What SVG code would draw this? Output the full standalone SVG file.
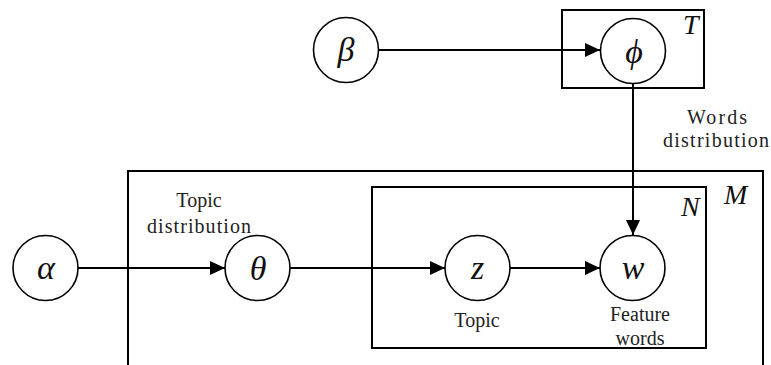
<svg xmlns="http://www.w3.org/2000/svg" width="771" height="365" viewBox="0 0 771 365">
  <style>
    .plate { fill: none; stroke: #000; stroke-width: 2; }
    .node { fill: #fff; stroke: #000; stroke-width: 1.6; }
    .edge { fill: none; stroke: #000; stroke-width: 2; marker-end: url(#arrow); }
    .sym { font-family: "Liberation Serif", "Times New Roman", serif; font-style: italic; font-size: 34px; fill: #111; text-anchor: middle; }
    .idx { font-family: "Liberation Serif", "Times New Roman", serif; font-style: italic; font-size: 28px; fill: #111; }
    .lbl { font-family: "Liberation Serif", "Times New Roman", serif; font-size: 20px; fill: #222; text-anchor: middle; }
  </style>
  <defs>
    <marker id="arrow" markerUnits="userSpaceOnUse" markerWidth="16" markerHeight="14" refX="15" refY="7" orient="auto">
      <path d="M0,0 L15,7 L0,14 Z" fill="#000"/>
    </marker>
  </defs>
  <rect width="771" height="365" fill="#fff"/>

  <!-- plates -->
  <g id="plate-T">
    <rect class="plate" x="562" y="10" width="142" height="78"/>
    <text class="idx" x="683" y="34">T</text>
  </g>
  <g id="plate-M">
    <rect class="plate" x="128" y="171" width="635" height="210"/>
    <text class="idx" x="724" y="204">M</text>
  </g>
  <g id="plate-N">
    <rect class="plate" x="372" y="187" width="334" height="161"/>
    <text class="idx" x="681" y="216">N</text>
  </g>

  <!-- connectors -->
  <g id="edges">
    <line class="edge" x1="379" y1="50" x2="600" y2="50"/>
    <line class="edge" x1="633" y1="83" x2="633" y2="235"/>
    <line class="edge" x1="78" y1="268" x2="225" y2="268"/>
    <line class="edge" x1="290" y1="268" x2="445" y2="268"/>
    <line class="edge" x1="510" y1="268" x2="600" y2="268"/>
  </g>

  <!-- nodes -->
  <g id="node-beta">
    <circle class="node" cx="346" cy="50" r="32.5"/>
    <text class="sym" x="346" y="61">β</text>
  </g>
  <g id="node-phi">
    <circle class="node" cx="633" cy="51" r="32.5"/>
    <text class="sym" x="634" y="63">ϕ</text>
  </g>
  <g id="node-alpha">
    <circle class="node" cx="45.5" cy="268" r="32.5"/>
    <text class="sym" x="46" y="279">α</text>
  </g>
  <g id="node-theta">
    <circle class="node" cx="257.5" cy="268" r="32.5"/>
    <text class="sym" x="258" y="280">θ</text>
  </g>
  <g id="node-z">
    <circle class="node" cx="477.5" cy="268" r="32.5"/>
    <text class="sym" x="477.5" y="279">z</text>
  </g>
  <g id="node-w">
    <circle class="node" cx="632.5" cy="268" r="32.5"/>
    <text class="sym" x="633" y="279">w</text>
  </g>

  <!-- annotations -->
  <g id="labels">
    <text class="lbl" x="199" y="207">Topic</text>
    <text class="lbl" x="199" y="233" textLength="104" lengthAdjust="spacing">distribution</text>
    <text class="lbl" x="717" y="124" textLength="60" lengthAdjust="spacing">Words</text>
    <text class="lbl" x="716" y="147" textLength="106" lengthAdjust="spacing">distribution</text>
    <text class="lbl" x="477" y="327">Topic</text>
    <text class="lbl" x="640" y="321">Feature</text>
    <text class="lbl" x="640" y="345">words</text>
  </g>
</svg>
